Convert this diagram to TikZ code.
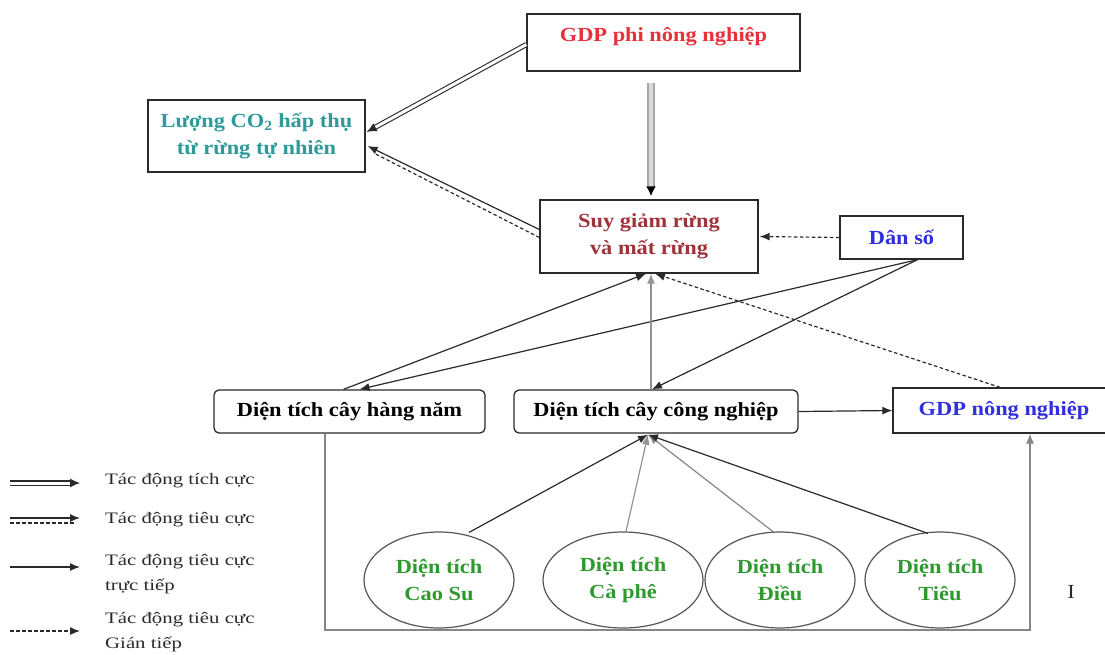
\documentclass[tikz,border=0pt]{standalone}
\usepackage{fontspec}
\setmainfont{Liberation Serif}[FakeStretch=1.12]
\newfontfamily\legfont{Liberation Serif}[FakeStretch=1.3]
\usetikzlibrary{arrows.meta,shapes.geometric,calc}
\definecolor{cred}{HTML}{E8303A}
\definecolor{cteal}{HTML}{2E9A9A}
\definecolor{cdred}{HTML}{A0323A}
\definecolor{cblue}{HTML}{2F2FE0}
\definecolor{cgreen}{HTML}{2E9A2E}
\definecolor{cline}{HTML}{2A2A2A}
\newcommand\mainfnt{\bfseries\fontsize{20}{27}\selectfont}
\newcommand\legfnt{\legfont\fontsize{16}{25}\selectfont}
\begin{document}
\begin{tikzpicture}[x=1pt,y=-1pt,
  box/.style={draw=cline, line width=1.3pt, fill=white, align=center, inner sep=2pt, font=\mainfnt},
  rbox/.style={box, rounded corners=5pt},
  ell/.style={draw=cline!80, line width=1.2pt, ellipse, minimum width=150, minimum height=96, align=center, font=\mainfnt, text=cgreen, inner sep=0pt},
  arr/.style={draw=cline, line width=1.2pt, -{Latex[length=10pt,width=8pt]}},
  darr/.style={arr, dashed, dash pattern=on 3.5pt off 2.5pt},
  dbl/.style={draw=cline, double=white, double distance=3pt, line width=1.1pt, -{Latex[length=10pt,width=9pt]}},
  gdbl/.style={draw=gray!70, double=gray!30, double distance=3.5pt, line width=2pt, -{Latex[length=10pt,width=10pt,black]}},
  leg/.style={anchor=west, align=left, font=\legfnt, text=cline, inner sep=0pt}
]
\useasboundingbox (0,0) rectangle (1105,654);

% boxes
\node[box, minimum width=273, minimum height=57, text=cred, text height=14, text depth=16] (gdpphi) at (663.5,42.5) {GDP phi nông nghiệp};
\node[box, minimum width=217, minimum height=72, text=cteal] (co2) at (256.5,136) {Lượng CO\textsubscript{2} hấp thụ\\từ rừng tự nhiên};
\node[box, minimum width=218, minimum height=73, text=cdred] (sg) at (649,236.5) {Suy giảm rừng\\và mất rừng};
\node[box, minimum width=123, minimum height=43, text=cblue] (dan) at (901.5,237.5) {Dân số};
\node[rbox, minimum width=271, minimum height=43] (hn) at (349.5,411.5) {Diện tích cây hàng năm};
\node[rbox, minimum width=284, minimum height=43] (cn) at (656,411.5) {Diện tích cây công nghiệp};
\node[box, minimum width=222, minimum height=45, text=cblue] (gdpnn) at (1004,410.5) {GDP nông nghiệp};

% ellipses
\node[ell] (caosu) at (439,580) {Diện tích\\Cao Su};
\node[ell, minimum width=160] (caphe) at (623,580) {Diện tích\\Cà phê};
\node[ell] (dieu) at (780,580) {Diện tích\\Điều};
\node[ell] (tieu) at (940,580) {Diện tích\\Tiêu};
\node[font=\fontsize{20}{24}\selectfont, text=cline] (imark) at (1071,592) {I};

% connectors top
\draw[dbl] ($(gdpphi.west)+(0,2)$) -- ($(co2.east)+(1,-4)$);
\draw[arr] ($(sg.west)+(0,-7)$) -- ($(co2.east)+(2,10)$);
\draw[darr, -] ($(sg.west)+(0,1)$) -- ($(co2.east)+(8,17)$);
\draw[gdbl] ($(gdpphi.south)+(-12.5,11)$) -- ($(sg.north)+(2,-3)$);
\draw[darr] (dan.west) -- ($(sg.east)+(1,0)$);

% middle
\draw[arr] ($(dan.south)+(16,0)$) -- ($(hn.north)+(10,0)$);
\draw[arr] ($(dan.south)+(16,0)$) -- ($(cn.north)+(-4,0)$);
\draw[arr] ($(hn.north)+(-6,0)$) -- ($(sg.south)+(-3,0)$);
\draw[arr, draw=gray!85] ($(cn.north)+(-5,0)$) -- ($(sg.south)+(2,0)$);
\draw[darr] ($(gdpnn.north)+(-4,0)$) -- ($(sg.south)+(6,0)$);
\draw[arr] (cn.east) -- (gdpnn.west);

% ellipses to cn
\coordinate (cnb) at ($(cn.south)+(-8,1)$);
\draw[arr] ($(caosu.north)+(30,1)$) -- (cnb);
\draw[arr, draw=gray!85] ($(caphe.north)+(3,0)$) -- (cnb);
\draw[arr, draw=gray!95] ($(dieu.north)+(-6,1)$) -- (cnb);
\draw[arr] ($(tieu.north)+(-12,2)$) -- (cnb);

% frame
\coordinate (fr2) at (1030,630);
\draw[arr, draw=gray!95] ($(hn.south)+(-24.5,0)$) |- (fr2) -- ($(gdpnn.south)+(26,0)$);

% legend
\coordinate (l1a) at (10,483); \coordinate (l1b) at (80,483);
\coordinate (l2a) at (10,518); \coordinate (l2b) at (80,518);
\coordinate (l2c) at (10,523); \coordinate (l2d) at (74,523);
\coordinate (l3a) at (10,567); \coordinate (l3b) at (80,567);
\coordinate (l4a) at (10,631); \coordinate (l4b) at (80,631);
\draw[dbl] (l1a) -- (l1b);
\draw[arr] (l2a) -- (l2b);
\draw[darr, -] (l2c) -- (l2d);
\draw[arr] (l3a) -- (l3b);
\draw[darr] (l4a) -- (l4b);
\node[leg] (t1) at (105,481) {Tác động tích cực};
\node[leg] (t2) at (105,520) {Tác động tiêu cực};
\node[leg] (t3) at (105,574) {Tác động tiêu cực\\trực tiếp};
\node[leg] (t4) at (105,632) {Tác động tiêu cực\\Gián tiếp};
\end{tikzpicture}
\end{document}
